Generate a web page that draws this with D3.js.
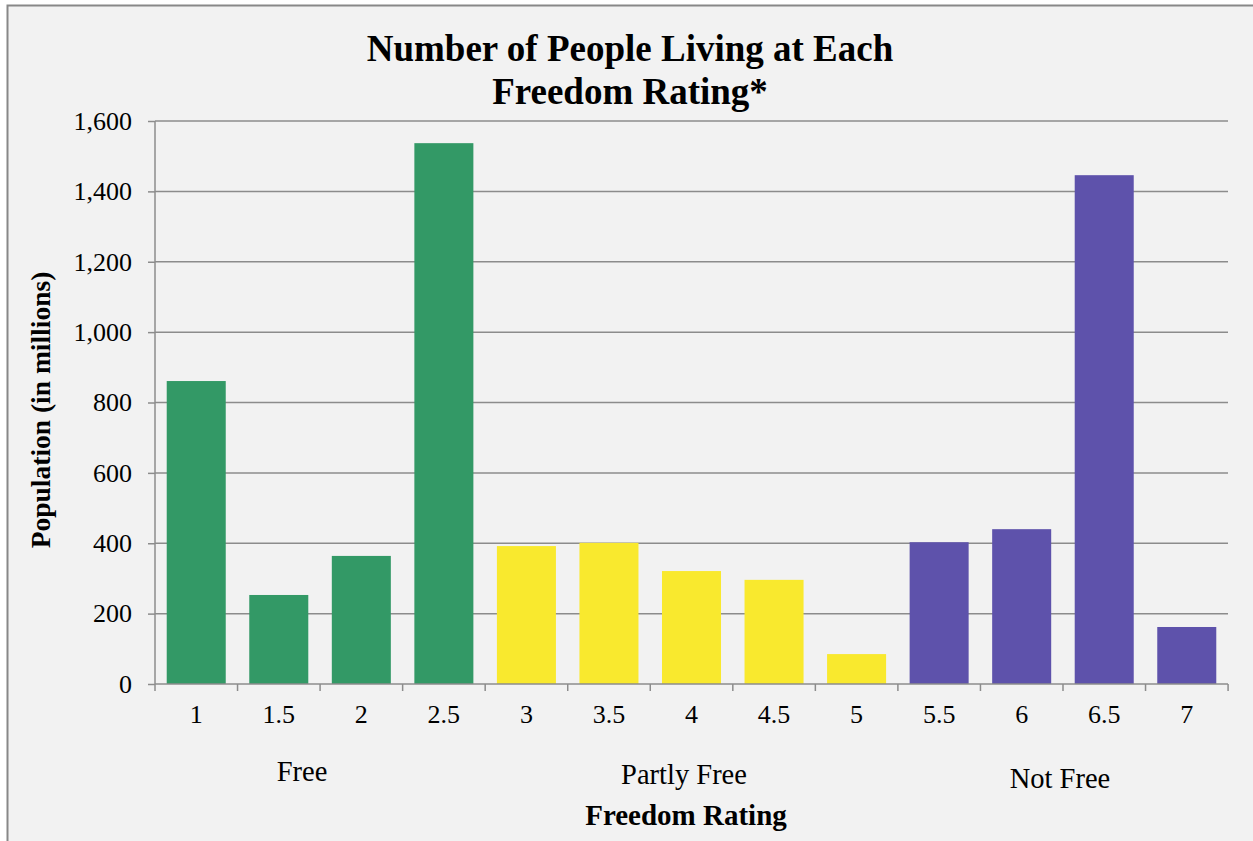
<!DOCTYPE html>
<html>
<head>
<meta charset="utf-8">
<script src="https://cdn.jsdelivr.net/npm/d3@7"></script>
<style>
  body { margin: 0; background: #fff; }
  text { font-family: "Liberation Serif", "Times New Roman", serif; fill: #000; }
</style>
</head>
<body>
<div id="chart"></div>
<script>
// data
var ratings = ["1", "1.5", "2", "2.5", "3", "3.5", "4", "4.5", "5", "5.5", "6", "6.5", "7"]
var population = [861, 253, 364, 1537, 392, 401, 321, 296, 85, 403, 440, 1446, 162]
var freedomStatus = ["Free", "Free", "Free", "Free", "Partly Free", "Partly Free", "Partly Free", "Partly Free", "Partly Free", "Not Free", "Not Free", "Not Free", "Not Free"]
var groups = ["Free", "Partly Free", "Not Free"]
var yTicks = [0, 200, 400, 600, 800, 1000, 1200, 1400, 1600]

var width = 1253
var height = 841
var margin = { top: 121, right: 25, bottom: 157, left: 155 }

var svg = d3.select("#chart")
  .append("svg")
  .attr("width", width)
  .attr("height", height)

// chart area background + border
svg.append("rect")
  .attr("x", 7.5).attr("y", 5.5)
  .attr("width", width + 10).attr("height", height + 10)
  .attr("fill", "#f2f2f2")
  .attr("stroke", "#888")
  .attr("stroke-width", 2)

var x = d3.scaleBand()
  .domain(ratings)
  .range([margin.left, width - margin.right])
  .paddingInner(0.285)
  .paddingOuter(0.142)

var y = d3.scaleLinear()
  .domain([0, 1600])
  .range([height - margin.bottom, margin.top])

var color = d3.scaleOrdinal()
  .domain(groups)
  .range(["#339966", "#f9e92e", "#5e52ab"])

// gridlines
svg.append("g")
  .selectAll("line")
  .data(yTicks.filter(d => d > 0))
  .enter()
  .append("line")
  .attr("x1", margin.left)
  .attr("x2", width - margin.right)
  .attr("y1", d => y(d))
  .attr("y2", d => y(d))
  .attr("stroke", "#8c8c8c")
  .attr("stroke-width", 1.5)

// bars
svg.append("g")
  .selectAll("rect")
  .data(ratings)
  .enter()
  .append("rect")
  .attr("x", d => x(d))
  .attr("y", (d, i) => y(population[i]))
  .attr("width", x.bandwidth())
  .attr("height", (d, i) => y(0) - y(population[i]))
  .attr("fill", (d, i) => color(freedomStatus[i]))

// y axis
var yAxis = svg.append("g")
  .attr("transform", "translate(" + margin.left + ",0)")
  .call(d3.axisLeft(y).tickValues(yTicks).tickSize(7).tickPadding(16).tickFormat(d3.format(",")))
yAxis.select(".domain").attr("stroke", "#8c8c8c").attr("stroke-width", 1.5).attr("d", "M0," + y(1600) + "V" + y(0))
yAxis.selectAll(".tick line").attr("stroke", "#8c8c8c").attr("stroke-width", 1.5)
yAxis.selectAll(".tick text").style("font-size", "26px").style("font-family", "Liberation Serif, serif").attr("fill", "#000")

// x axis: ticks at band boundaries
var xAxisY = y(0)
var step = x.step()
var bounds = d3.range(ratings.length + 1).map(i => margin.left + i * step)
svg.append("line")
  .attr("x1", margin.left).attr("x2", width - margin.right)
  .attr("y1", xAxisY).attr("y2", xAxisY)
  .attr("stroke", "#8c8c8c").attr("stroke-width", 1.5)
svg.append("g")
  .selectAll("line")
  .data(bounds)
  .enter()
  .append("line")
  .attr("x1", d => d).attr("x2", d => d)
  .attr("y1", xAxisY).attr("y2", xAxisY + 7)
  .attr("stroke", "#8c8c8c").attr("stroke-width", 1.5)

svg.append("g")
  .selectAll("text")
  .data(ratings)
  .enter()
  .append("text")
  .attr("x", d => x(d) + x.bandwidth() / 2)
  .attr("y", 723)
  .attr("text-anchor", "middle")
  .style("font-size", "26px")
  .text(d => d)

// group labels under the ticks
var groupPos = [{ name: "Free", x: 302, y: 781 }, { name: "Partly Free", x: 684, y: 784 }, { name: "Not Free", x: 1060, y: 788 }]
svg.append("g")
  .selectAll("text")
  .data(groupPos)
  .enter()
  .append("text")
  .attr("x", d => d.x)
  .attr("y", d => d.y)
  .attr("text-anchor", "middle")
  .style("font-size", "28.5px")
  .text(d => d.name)

// axis titles
svg.append("text")
  .attr("x", 686).attr("y", 825)
  .attr("text-anchor", "middle")
  .style("font-size", "29px").style("font-weight", "bold")
  .text("Freedom Rating")

svg.append("text")
  .attr("transform", "translate(50,410) rotate(-90)")
  .attr("text-anchor", "middle")
  .style("font-size", "27.5px").style("font-weight", "bold")
  .text("Population (in millions)")

// title
svg.append("text")
  .attr("x", 630).attr("y", 61)
  .attr("text-anchor", "middle")
  .style("font-size", "37px").style("font-weight", "bold")
  .text("Number of People Living at Each")
svg.append("text")
  .attr("x", 630).attr("y", 104)
  .attr("text-anchor", "middle")
  .style("font-size", "37px").style("font-weight", "bold")
  .text("Freedom Rating*")
</script>
</body>
</html>
